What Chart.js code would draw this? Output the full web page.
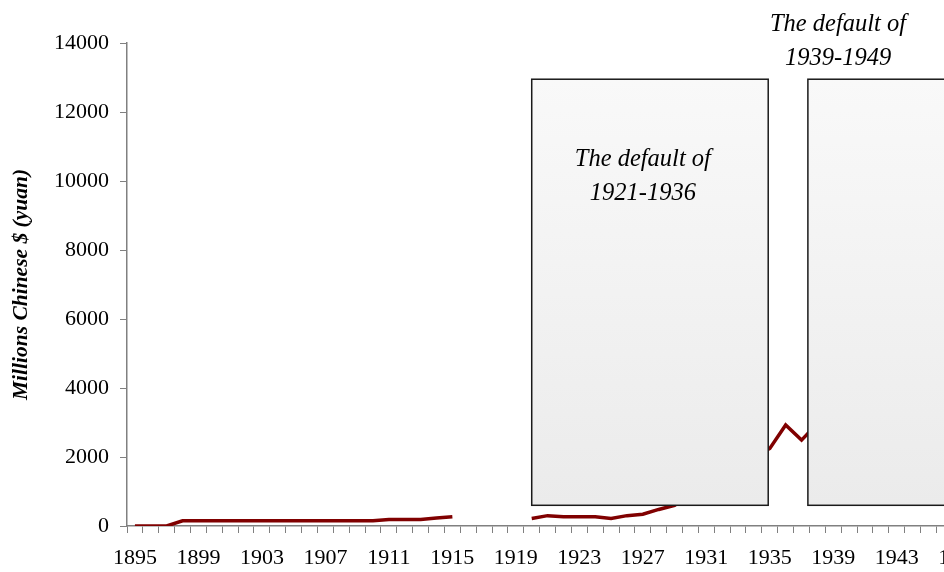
<!DOCTYPE html>
<html>
<head>
<meta charset="utf-8">
<title>Chinese debt 1895-1949</title>
<script src="https://cdn.jsdelivr.net/npm/chart.js@4.4.1/dist/chart.umd.min.js"></script>
<style>
    html, body { margin: 0; padding: 0; background: #ffffff; overflow: hidden; }
    #wrap { width: 1004px; height: 572px; }
</style>
</head>
<body>
<div id="wrap"><canvas id="debtChart" width="1004" height="572"></canvas></div>
<script>
// Years shown on the category axis
const years = [
    '1895', '1896', '1897', '1898', '1899', '1900', '1901', '1902', '1903', '1904',
    '1905', '1906', '1907', '1908', '1909', '1910', '1911', '1912', '1913', '1914',
    '1915', '1916', '1917', '1918', '1919', '1920', '1921', '1922', '1923', '1924',
    '1925', '1926', '1927', '1928', '1929', '1930', '1931', '1932', '1933', '1934',
    '1935', '1936', '1937', '1938', '1939', '1940', '1941', '1942', '1943', '1944',
    '1945', '1946', '1947', '1948', '1949'
];

// Debt, millions of Chinese $ (yuan); null = no data (gap 1916-1919)
const debtValues = [
    0, 0, 0, 150, 150, 150, 150, 150, 150, 150,
    150, 150, 150, 150, 150, 150, 190, 190, 190, 230,
    270, null, null, null, null, 220, 300, 270, 270, 270,
    220, 300, 340, 480, 600, 900, 1200, 1500, 1800, 2000,
    2250, 2930, 2490, 2970, 3500, 4300, 5200, 6100, 7000, 7800,
    8600, 9400, 10200, 11000, 11800
];

// Y tick values
const yTicks = [0, 2000, 4000, 6000, 8000, 10000, 12000, 14000];

// Default periods (boxes) in year / value units
const defaultPeriods = [
    { from: 1920, to: 1934.9, low: 600, high: 12950, labelYear: 1927, lines: ['The default of', '1921-1936'], labelValues: [10630, 9650] },
    { from: 1937.4, to: 1951, low: 600, high: 12950, labelYear: 1939.3, lines: ['The default of', '1939-1949'], labelValues: [14540, 13560] }
];

const firstYear = 1895;

const defaultBoxesPlugin = {
    id: 'defaultBoxes',
    afterDatasetsDraw(chart) {
        const { ctx, scales: { x, y } } = chart;
        ctx.save();
        defaultPeriods.forEach(p => {
            const left = x.getPixelForValue(p.from - firstYear);
            const right = x.getPixelForValue(p.to - firstYear);
            const top = y.getPixelForValue(p.high);
            const bottom = y.getPixelForValue(p.low);
            const grad = ctx.createLinearGradient(0, top, 0, bottom);
            grad.addColorStop(0, '#f9f9f9');
            grad.addColorStop(1, '#ebebeb');
            ctx.fillStyle = grad;
            ctx.fillRect(left, top, right - left, bottom - top);
            ctx.strokeStyle = '#1a1a1a';
            ctx.lineWidth = 1.5;
            ctx.strokeRect(left, top, right - left, bottom - top);
        });
        ctx.fillStyle = '#000000';
        ctx.font = 'italic 24.5px "Liberation Serif", "DejaVu Serif", serif';
        ctx.textAlign = 'center';
        ctx.textBaseline = 'middle';
        defaultPeriods.forEach(p => {
            const cx = x.getPixelForValue(p.labelYear - firstYear);
            p.lines.forEach((line, i) => {
                ctx.fillText(line, cx, y.getPixelForValue(p.labelValues[i]));
            });
        });
        ctx.restore();
    }
};

const axisFont = { family: '"Liberation Serif", "Times New Roman", serif', size: 22 };

new Chart(document.getElementById('debtChart').getContext('2d'), {
    type: 'line',
    data: {
        labels: years,
        datasets: [{
            label: 'Debt',
            data: debtValues,
            borderColor: '#800000',
            borderWidth: 3.5,
            pointRadius: 0,
            tension: 0,
            spanGaps: false,
            fill: false
        }]
    },
    options: {
        responsive: false,
        animation: false,
        layout: { padding: { top: 43, left: 0, right: 0, bottom: 0 } },
        plugins: {
            legend: { display: false },
            tooltip: { enabled: false }
        },
        scales: {
            x: {
                type: 'category',
                offset: true,
                afterFit(scale) { scale.height = 46; },
                grid: {
                    offset: true,
                    drawOnChartArea: false,
                    drawTicks: true,
                    tickLength: 7,
                    color: '#808080',
                    lineWidth: 1
                },
                border: { color: '#808080', width: 1.5 },
                ticks: {
                    autoSkip: false,
                    maxRotation: 0,
                    padding: 12,
                    color: '#000000',
                    font: axisFont,
                    callback(value, index) {
                        return index % 4 === 0 ? years[index] : '';
                    }
                }
            },
            y: {
                min: 0,
                max: 14000,
                afterFit(scale) { scale.width = 127; },
                afterBuildTicks(scale) {
                    scale.ticks = yTicks.map(v => ({ value: v }));
                },
                grid: {
                    drawOnChartArea: false,
                    drawTicks: true,
                    tickLength: 7,
                    color: '#808080',
                    lineWidth: 1
                },
                border: { color: '#808080', width: 1.5 },
                ticks: {
                    padding: 11,
                    color: '#000000',
                    font: axisFont,
                    callback(value) { return String(value); }
                },
                title: {
                    display: true,
                    text: 'Millions Chinese $ (yuan)',
                    color: '#000000',
                    padding: { top: 9, bottom: 0 },
                    font: { family: '"Liberation Serif", "DejaVu Serif", serif', size: 21.5, style: 'italic', weight: 'bold' }
                }
            }
        }
    },
    plugins: [defaultBoxesPlugin]
});
</script>
</body>
</html>
